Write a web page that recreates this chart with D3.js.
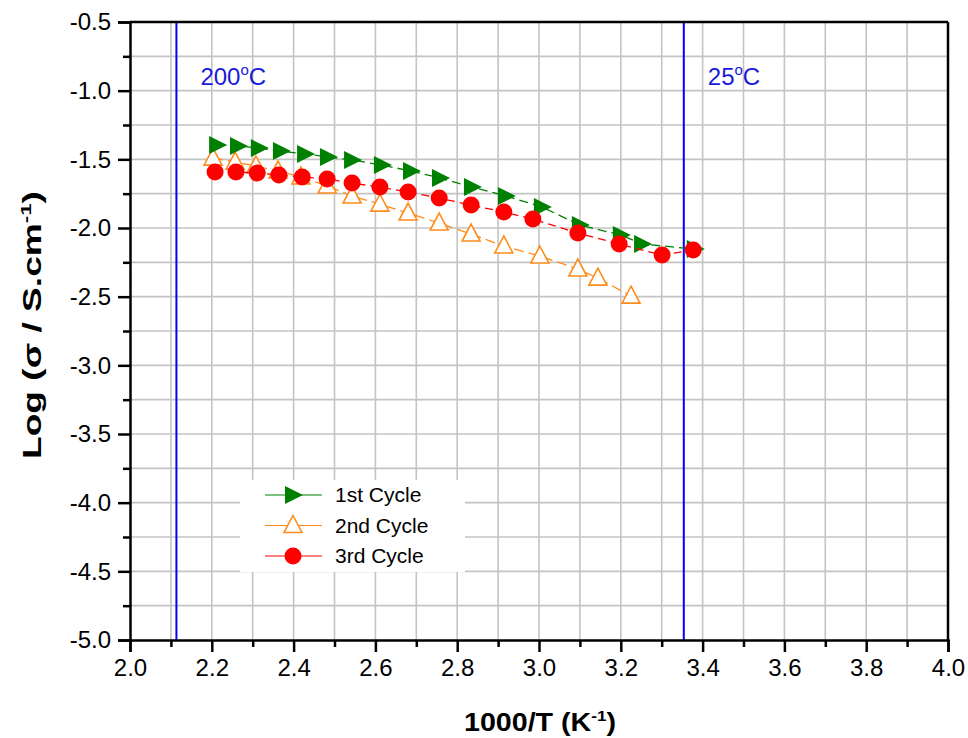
<!DOCTYPE html>
<html>
<head>
<meta charset="utf-8">
<script src="https://cdn.jsdelivr.net/npm/d3@7"></script>
<style>
  body { margin: 0; background: #fff; }
  svg { font-family: Arial, "Liberation Sans", sans-serif; }
</style>
</head>
<body>
<div id="chart"></div>
<script>
// data
const cycle1X = [2.213, 2.264, 2.315, 2.369, 2.428, 2.484, 2.543, 2.616, 2.687, 2.758, 2.836, 2.919, 3.007, 3.100, 3.200, 3.252, 3.381];
const cycle1Y = [-1.396, -1.403, -1.418, -1.440, -1.461, -1.483, -1.505, -1.542, -1.585, -1.636, -1.702, -1.767, -1.847, -1.979, -2.051, -2.117, -2.153];
const cycle2X = [2.203, 2.257, 2.308, 2.362, 2.418, 2.482, 2.543, 2.611, 2.680, 2.756, 2.834, 2.914, 3.002, 3.095, 3.144, 3.225];
const cycle2Y = [-1.491, -1.520, -1.549, -1.585, -1.629, -1.694, -1.767, -1.826, -1.891, -1.964, -2.044, -2.131, -2.204, -2.299, -2.365, -2.496];
const cycle3X = [2.208, 2.259, 2.311, 2.364, 2.421, 2.482, 2.543, 2.611, 2.680, 2.756, 2.834, 2.914, 2.985, 3.095, 3.196, 3.301, 3.377];
const cycle3Y = [-1.592, -1.592, -1.600, -1.614, -1.629, -1.643, -1.673, -1.702, -1.738, -1.782, -1.833, -1.884, -1.935, -2.037, -2.117, -2.197, -2.161];
const xTicks = [2.0, 2.2, 2.4, 2.6, 2.8, 3.0, 3.2, 3.4, 3.6, 3.8, 4.0];
const yTicks = [-0.5, -1.0, -1.5, -2.0, -2.5, -3.0, -3.5, -4.0, -4.5, -5.0];
const tempLines = [{ x: 1000 / 473.15, label: "200" }, { x: 1000 / 298.15, label: "25" }];

const width = 968, height = 738;
const margin = { top: 22, right: 20, bottom: 98, left: 130 };

const svg = d3.select("#chart").append("svg")
  .attr("width", width)
  .attr("height", height);

const x = d3.scaleLinear().domain([2.0, 4.0]).range([margin.left, width - margin.right]);
const y = d3.scaleLinear().domain([-5.0, -0.5]).range([height - margin.bottom, margin.top]);

// grid every minor tick
svg.append("g")
  .selectAll("line")
  .data(d3.range(2.1, 4.0, 0.1))
  .join("line")
  .attr("x1", d => x(d)).attr("x2", d => x(d))
  .attr("y1", y(-5.0)).attr("y2", y(-0.5))
  .attr("stroke", "#c4c4c4").attr("stroke-width", 1.6);
svg.append("g")
  .selectAll("line")
  .data(d3.range(-4.75, -0.5, 0.25))
  .join("line")
  .attr("x1", x(2.0)).attr("x2", x(4.0))
  .attr("y1", d => y(d)).attr("y2", d => y(d))
  .attr("stroke", "#c4c4c4").attr("stroke-width", 1.6);

// temperature markers
svg.append("g")
  .selectAll("line")
  .data(tempLines)
  .join("line")
  .attr("x1", d => x(d.x)).attr("x2", d => x(d.x))
  .attr("y1", y(-5.0)).attr("y2", y(-0.5))
  .attr("stroke", "#0000ff").attr("stroke-width", 2);

const tl = svg.append("g")
  .selectAll("text")
  .data(tempLines)
  .join("text")
  .attr("x", d => x(d.x) + 24)
  .attr("y", 85)
  .attr("fill", "#1a1adb")
  .style("font-size", "24px");
tl.append("tspan").text(d => d.label);
tl.append("tspan").attr("dy", -10).style("font-size", "15px").text("o");
tl.append("tspan").attr("dy", 10).text("C");

// series
const series = [
  { name: "1st Cycle", xs: cycle1X, ys: cycle1Y, color: "#008000", dash: "9,5", shape: "right" },
  { name: "2nd Cycle", xs: cycle2X, ys: cycle2Y, color: "#ff8c1a", dash: "10,5", shape: "up" },
  { name: "3rd Cycle", xs: cycle3X, ys: cycle3Y, color: "#ff0000", dash: "8,5", shape: "circle" }
];

const line = d3.line().x(d => x(d[0])).y(d => y(d[1]));

function drawMarker(g, shape, color) {
  if (shape === "right") {
    g.append("path").attr("d", "M-8,-9 L10,0 L-8,9 Z").attr("fill", color);
  } else if (shape === "up") {
    g.append("path").attr("d", "M0,-10 L9,7 L-9,7 Z")
      .attr("fill", "#fff").attr("stroke", color).attr("stroke-width", 1.6);
  } else {
    g.append("circle").attr("r", 8.5).attr("fill", color);
  }
}

// draw 2nd first so the others sit on top
[series[1], series[0], series[2]].forEach(s => {
  const pts = s.xs.map((v, i) => [v, s.ys[i]]);
  svg.append("path")
    .datum(pts)
    .attr("d", line)
    .attr("fill", "none")
    .attr("stroke", s.color)
    .attr("stroke-width", 1.3)
    .attr("stroke-dasharray", s.dash);
  svg.append("g")
    .selectAll("g")
    .data(pts)
    .join("g")
    .attr("transform", d => `translate(${x(d[0])},${y(d[1])})`)
    .each(function () { drawMarker(d3.select(this), s.shape, s.color); });
});

// legend
const legend = svg.append("g").attr("transform", "translate(240,480)");
legend.append("rect").attr("width", 225).attr("height", 92).attr("fill", "#fff");
series.forEach((s, i) => {
  const row = legend.append("g").attr("transform", `translate(0,${15 + i * 30.5})`);
  row.append("line").attr("x1", 25).attr("x2", 82).attr("stroke", s.color).attr("stroke-width", 1.2);
  drawMarker(row.append("g").attr("transform", "translate(53,0)"), s.shape, s.color);
  row.append("text").attr("x", 95).attr("y", 7).style("font-size", "21px").attr("fill", "#000").text(s.name);
});

// axes
const fmt = d => d.toFixed(1);
svg.append("g")
  .attr("transform", `translate(0,${y(-5.0)})`)
  .call(d3.axisBottom(x).tickValues(xTicks).tickFormat(fmt).tickSize(12).tickPadding(7));
svg.append("g")
  .attr("transform", `translate(0,${y(-5.0)})`)
  .call(d3.axisBottom(x).tickValues(d3.range(2.1, 4.0, 0.2)).tickFormat("").tickSize(7))
  .select(".domain").remove();
svg.append("g")
  .attr("transform", `translate(${x(2.0)},0)`)
  .call(d3.axisLeft(y).tickValues(yTicks).tickFormat(fmt).tickSize(12).tickPadding(7));
svg.append("g")
  .attr("transform", `translate(${x(2.0)},0)`)
  .call(d3.axisLeft(y).tickValues(d3.range(-4.75, -0.5, 0.5)).tickFormat("").tickSize(7))
  .select(".domain").remove();

svg.selectAll(".domain").attr("stroke", "#000").attr("stroke-width", 2.5);
svg.selectAll(".tick line").attr("stroke", "#000").attr("stroke-width", 2.5);
svg.selectAll(".tick text")
  .attr("font-size", 24)
  .attr("font-family", "Arial, 'Liberation Sans', sans-serif")
  .attr("fill", "#000");

// frame top and right
svg.append("line").attr("x1", x(2.0)).attr("x2", x(4.0)).attr("y1", y(-0.5)).attr("y2", y(-0.5))
  .attr("stroke", "#000").attr("stroke-width", 2.5);
svg.append("line").attr("x1", x(4.0)).attr("x2", x(4.0)).attr("y1", y(-0.5)).attr("y2", y(-5.0))
  .attr("stroke", "#000").attr("stroke-width", 2.5);

// axis titles
const xl = svg.append("text")
  .attr("x", 540).attr("y", 731)
  .attr("text-anchor", "middle")
  .attr("textLength", 152).attr("lengthAdjust", "spacingAndGlyphs")
  .style("font-size", "25px").style("font-weight", "bold");
xl.append("tspan").text("1000/T (K");
xl.append("tspan").attr("dy", -10).style("font-size", "15px").text("-1");
xl.append("tspan").attr("dy", 10).text(")");

const yl = svg.append("text")
  .attr("transform", `translate(41,325) rotate(-90)`)
  .attr("text-anchor", "middle")
  .attr("textLength", 268).attr("lengthAdjust", "spacingAndGlyphs")
  .style("font-size", "25px").style("font-weight", "bold");
yl.append("tspan").text("Log (σ / S.cm");
yl.append("tspan").attr("dy", -10).style("font-size", "15px").text("-1");
yl.append("tspan").attr("dy", 10).text(")");
</script>
</body>
</html>
